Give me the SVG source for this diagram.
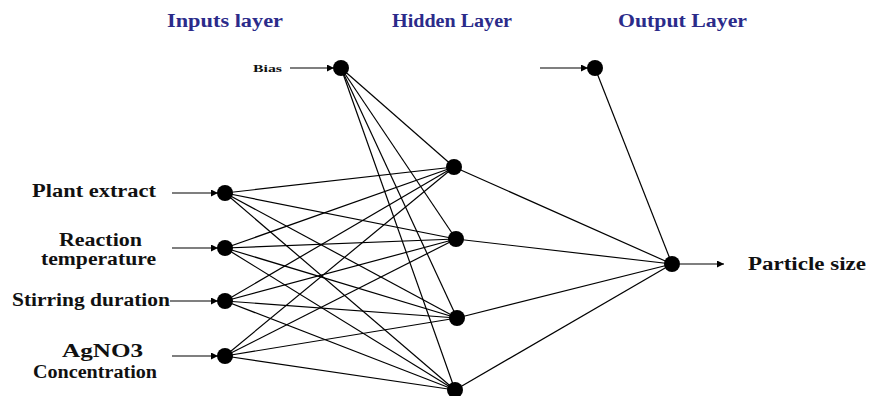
<svg xmlns="http://www.w3.org/2000/svg" width="869" height="396" viewBox="0 0 869 396">
<style>
text{font-family:"Liberation Serif","DejaVu Serif","Times New Roman",serif;font-weight:bold}
.t{font-size:18px;fill:#2b2b8a}
.l{font-size:18px;fill:#111}
.s{font-size:10px;fill:#111}
.c line{stroke:#000;stroke-width:1.2}
.a{stroke:#222;stroke-width:1.3;marker-end:url(#ah)}
.n{fill:#000}
</style>
<defs>
<marker id="ah" viewBox="0 0 10 10" refX="10" refY="5" markerWidth="7" markerHeight="7" markerUnits="userSpaceOnUse" orient="auto"><path d="M0,0L10,5L0,10z" fill="#000"/></marker>
</defs>
<rect width="869" height="396" fill="#fff"/>
<text class="t" x="167" y="27" textLength="116" lengthAdjust="spacingAndGlyphs">Inputs layer</text>
<text class="t" x="392" y="27" textLength="120" lengthAdjust="spacingAndGlyphs">Hidden Layer</text>
<text class="t" x="618" y="27" textLength="129" lengthAdjust="spacingAndGlyphs">Output Layer</text>
<g class="c" id="connectors">
<line x1="225" y1="193" x2="454" y2="167"/><line x1="225" y1="193" x2="456" y2="239"/><line x1="225" y1="193" x2="457" y2="318"/><line x1="225" y1="193" x2="455" y2="390"/>
<line x1="225" y1="248" x2="454" y2="167"/><line x1="225" y1="248" x2="456" y2="239"/><line x1="225" y1="248" x2="457" y2="318"/><line x1="225" y1="248" x2="455" y2="390"/>
<line x1="225" y1="301" x2="454" y2="167"/><line x1="225" y1="301" x2="456" y2="239"/><line x1="225" y1="301" x2="457" y2="318"/><line x1="225" y1="301" x2="455" y2="390"/>
<line x1="225" y1="356" x2="454" y2="167"/><line x1="225" y1="356" x2="456" y2="239"/><line x1="225" y1="356" x2="457" y2="318"/><line x1="225" y1="356" x2="455" y2="390"/>
<line x1="341" y1="68" x2="454" y2="167"/><line x1="341" y1="68" x2="456" y2="239"/><line x1="341" y1="68" x2="457" y2="318"/><line x1="341" y1="68" x2="455" y2="390"/>
<line x1="454" y1="167" x2="672" y2="264"/><line x1="456" y1="239" x2="672" y2="264"/><line x1="457" y1="318" x2="672" y2="264"/><line x1="455" y1="390" x2="672" y2="264"/>
<line x1="595" y1="68" x2="672" y2="264"/>
<line class="a" x1="172" y1="193" x2="218" y2="193"/>
<line class="a" x1="172" y1="248" x2="218" y2="248"/>
<line class="a" x1="170" y1="301" x2="218" y2="301"/>
<line class="a" x1="172" y1="356" x2="218" y2="356"/>
<line class="a" x1="290" y1="68" x2="334" y2="68"/>
<line class="a" x1="540" y1="68" x2="588" y2="68"/>
<line class="a" x1="680" y1="264" x2="724" y2="264"/>
</g>
<g id="in1"><circle class="n" cx="225" cy="193" r="8"/><text class="l" x="32" y="197" textLength="124" lengthAdjust="spacingAndGlyphs">Plant extract</text></g>
<g id="in2"><circle class="n" cx="225" cy="248" r="8"/><text class="l" x="59" y="246" font-size="17" textLength="83" lengthAdjust="spacingAndGlyphs">Reaction</text><text class="l" x="41" y="265" font-size="17" textLength="115" lengthAdjust="spacingAndGlyphs">temperature</text></g>
<g id="in3"><circle class="n" cx="225" cy="301" r="8"/><text class="l" x="12" y="306" textLength="158" lengthAdjust="spacingAndGlyphs">Stirring duration</text></g>
<g id="in4"><circle class="n" cx="225" cy="356" r="8"/><text class="l" x="62" y="357" textLength="81" lengthAdjust="spacingAndGlyphs">AgNO3</text><text class="l" x="33" y="378" textLength="124" lengthAdjust="spacingAndGlyphs">Concentration</text></g>
<g id="bias1"><circle class="n" cx="341" cy="68" r="8"/><text class="s" x="253" y="72" textLength="29" lengthAdjust="spacingAndGlyphs">Bias</text></g>
<g id="h1"><circle class="n" cx="454" cy="167" r="8"/></g>
<g id="h2"><circle class="n" cx="456" cy="239" r="8"/></g>
<g id="h3"><circle class="n" cx="457" cy="318" r="8"/></g>
<g id="h4"><circle class="n" cx="455" cy="390" r="8"/></g>
<g id="bias2"><circle class="n" cx="595" cy="68" r="8"/></g>
<g id="out"><circle class="n" cx="672" cy="264" r="8"/><text class="l" x="748" y="270" textLength="118" lengthAdjust="spacingAndGlyphs">Particle size</text></g>
</svg>
